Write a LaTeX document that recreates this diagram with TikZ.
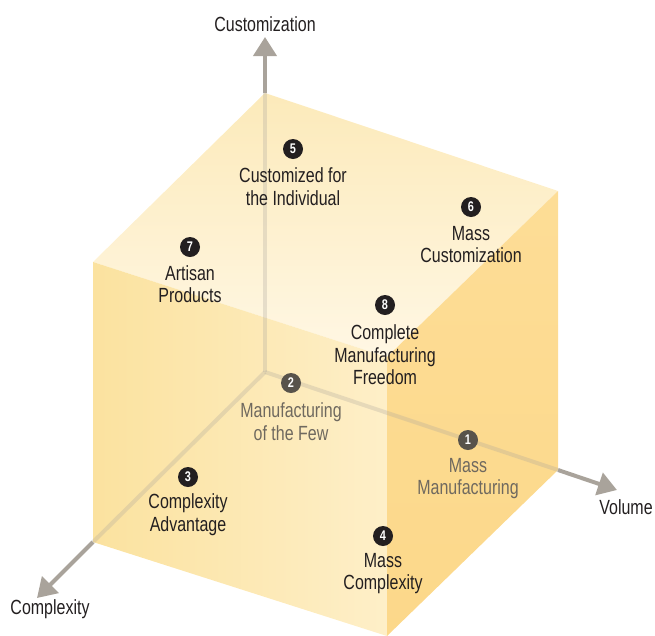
\documentclass[tikz,border=0pt]{standalone}
\usepackage{fontspec}
\setmainfont[FakeStretch=0.78]{Liberation Sans}
\usetikzlibrary{arrows.meta}
\definecolor{axisgray}{HTML}{A9A39B}
\definecolor{topback}{HTML}{FCEABA}
\definecolor{topfront}{HTML}{FFF7E4}
\definecolor{leftdark}{HTML}{FBE29F}
\definecolor{leftlight}{HTML}{FEEFC8}
\definecolor{rightface}{HTML}{FCD88A}
\definecolor{rightlight}{HTML}{FDDD96}
\definecolor{backtext}{HTML}{6F695F}
\definecolor{backnum}{HTML}{58534B}
\definecolor{inktext}{HTML}{231F20}
\tikzset{
	axis/.style={draw=axisgray, line width=4pt, -{Triangle[length=19pt,width=23pt]}},
	hidden/.style={draw=axisgray, line width=4pt, draw opacity=0.28},
	num/.style={circle, fill=inktext, text=white, inner sep=0pt, minimum size=20pt, font=\bfseries\fontsize{14pt}{14pt}\selectfont},
	numback/.style={num, fill=backnum},
	lbl/.style={align=center, text=inktext, font=\fontsize{20.5pt}{22.5pt}\selectfont},
	lblback/.style={lbl, text=backtext},
	axislbl/.style={text=inktext, font=\fontsize{20.5pt}{22.5pt}\selectfont}
}
\begin{document}
\begin{tikzpicture}[x=1pt, y=-1pt]
	\useasboundingbox (0,0) rectangle (655,635);
	%cube corners
	\coordinate (O) at (265,372);
	\coordinate (T) at (265,93);
	\coordinate (R) at (558,191);
	\coordinate (L) at (93,262);
	\coordinate (F) at (387,357);
	\coordinate (Rb) at (558,470);
	\coordinate (Lb) at (93,542);
	\coordinate (Fb) at (387,636);
	%axis tips
	\coordinate (tipU) at (265,37);
	\coordinate (tipV) at (617,490);
	\coordinate (tipC) at (37,598);

	%faces
	\shade[top color=topback, bottom color=topfront] (T) -- (R) -- (F) -- (L) -- cycle;
	\shade[left color=leftdark, right color=leftlight] (L) -- (F) -- (Fb) -- (Lb) -- cycle;
	\shade[top color=rightlight, bottom color=rightface] (F) -- (R) -- (Rb) -- (Fb) -- cycle;

	%axes
	\draw[hidden] (O) -- (T);
	\draw[hidden] (O) -- (Rb);
	\draw[hidden] (O) -- (Lb);
	\draw[axis] (T) -- (tipU);
	\draw[axis] (Rb) -- (tipV);
	\draw[axis] (Lb) -- (tipC);
	\node[axislbl] (custom) at (265,24) {Customization};
	\node[axislbl] (volume) at (626,507) {Volume};
	\node[axislbl] (complex) at (50,609) {Complexity};

	%points
	\node[numback] (n1) at (468,440) {1};
	\node[lblback] (t1) at (468,478.5) {Mass\\Manufacturing};
	\node[numback] (n2) at (291,383) {2};
	\node[lblback] (t2) at (291,421.5) {Manufacturing\\of the Few};
	\node[num] (n3) at (188,477) {3};
	\node[lbl] (t3) at (188,514.5) {Complexity\\Advantage};
	\node[num] (n4) at (383,536) {4};
	\node[lbl] (t4) at (383,573.5) {Mass\\Complexity};
	\node[num] (n5) at (293,149) {5};
	\node[lbl] (t5) at (293,186.5) {Customized for\\the Individual};
	\node[num] (n6) at (471,207) {6};
	\node[lbl] (t6) at (471,244.5) {Mass\\Customization};
	\node[num] (n7) at (190,247) {7};
	\node[lbl] (t7) at (190,284) {Artisan\\Products};
	\node[num] (n8) at (385,305) {8};
	\node[lbl] (t8) at (385,355) {Complete\\Manufacturing\\Freedom};
\end{tikzpicture}
\end{document}
